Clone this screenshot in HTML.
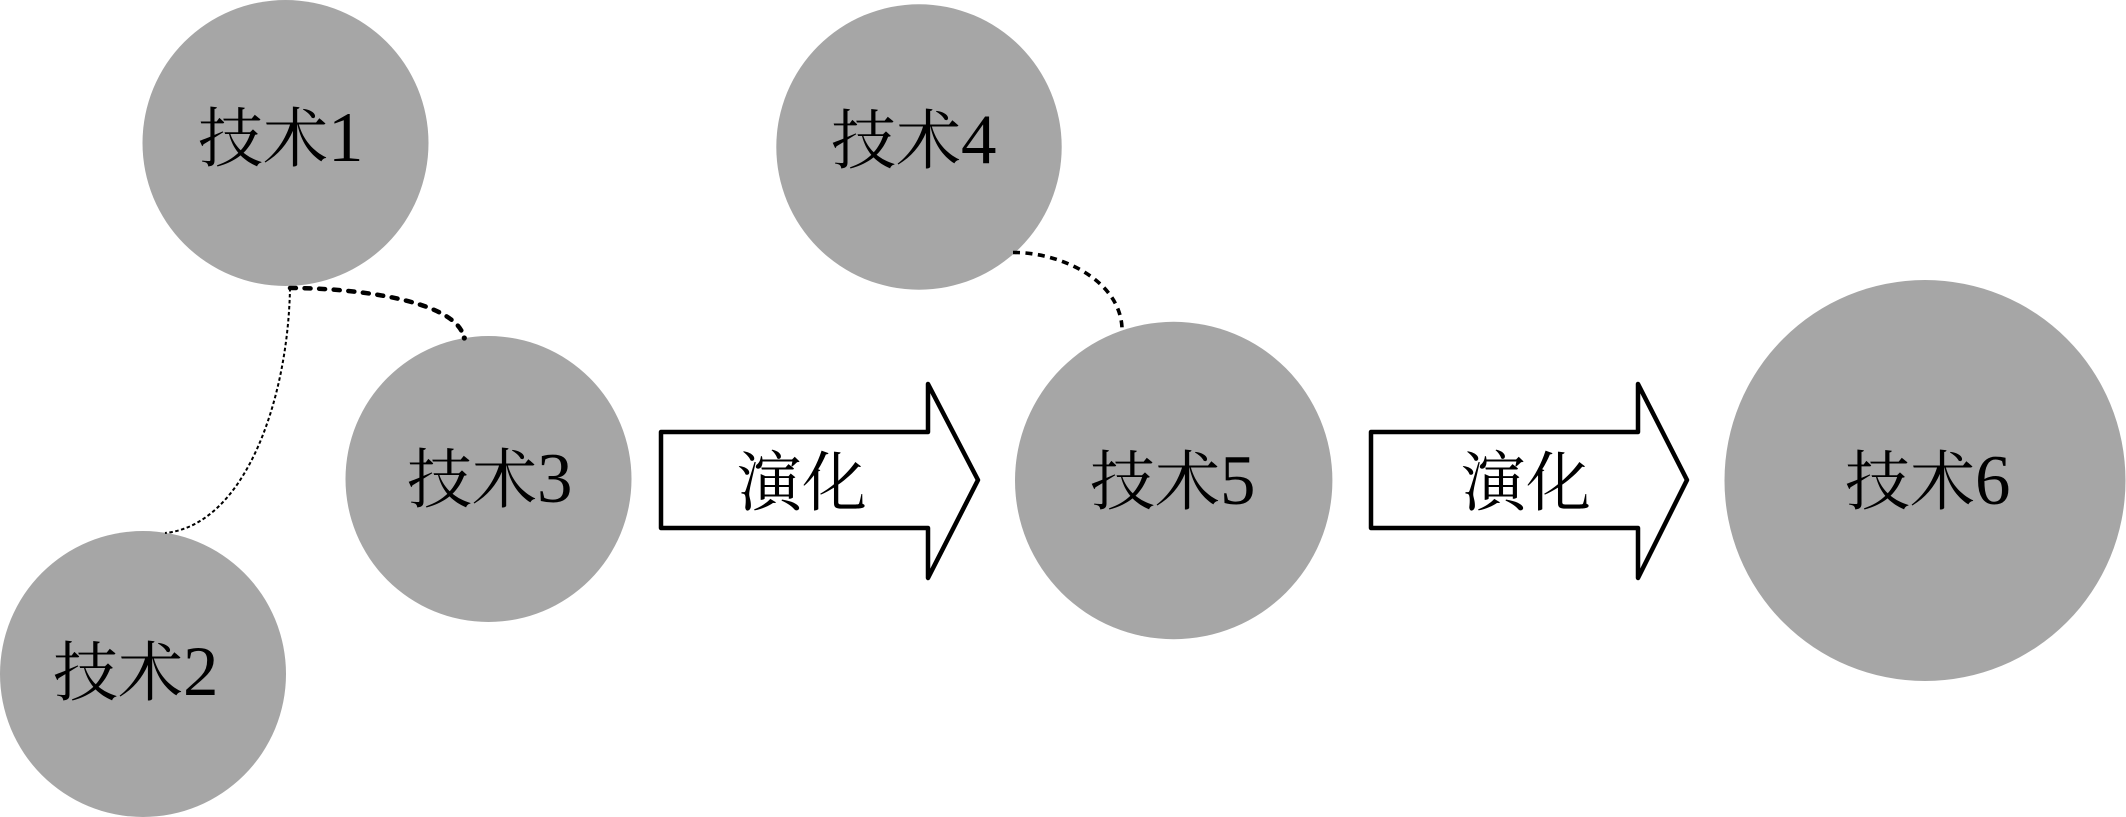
<!DOCTYPE html>
<html lang="zh">
<head>
<meta charset="utf-8">
<style>
html,body{margin:0;padding:0;background:#fff;width:2126px;height:817px;overflow:hidden}
svg{display:block}
text{font-family:"Liberation Serif","Noto Serif CJK SC",serif;font-size:65px;fill:#000}
tspan{font-size:71px}
</style>
</head>
<body>
<svg width="2126" height="817" viewBox="0 0 2126 817" xmlns="http://www.w3.org/2000/svg">
<g fill="#a6a6a6">
<circle cx="285.5" cy="143" r="143"/>
<circle cx="143" cy="674" r="143"/>
<circle cx="488.5" cy="479" r="143"/>
<circle cx="919" cy="147" r="142.7"/>
<circle cx="1173.7" cy="480.5" r="158.7"/>
<circle cx="1925" cy="480.5" r="200.5"/>
</g>
<g fill="none" stroke="#000">
<path d="M290 288C288 400 245 525 165 533" stroke-width="2" stroke-dasharray="3.5 2.5"/>
<path d="M290 288C355 288 450 300 463 334" stroke-width="4.5" stroke-dasharray="6 8.6" stroke-linecap="round"/>
<path d="M1013 252.5C1060 252 1120 280 1122 328" stroke-width="3.6" stroke-dasharray="7 5.5"/>
</g>
<circle cx="464.3" cy="338" r="2.6" fill="#000"/>
<g fill="#fff" stroke="#000" stroke-width="4.5" stroke-linejoin="round">
<path d="M661 432H928V384L978 480L928 578V528H661Z"/>
<path d="M1371 432H1638V384L1687 480L1638 578V528H1371Z"/>
</g>
<text x="198" y="161">技术<tspan>1</tspan></text>
<text x="53" y="695">技术<tspan>2</tspan></text>
<text x="407" y="502">技术<tspan>3</tspan></text>
<text x="831" y="163">技术<tspan>4</tspan></text>
<text x="1090" y="504">技术<tspan>5</tspan></text>
<text x="1845" y="504">技术<tspan>6</tspan></text>
<text x="737" y="505">演化</text>
<text x="1461" y="505">演化</text>
</svg>
</body>
</html>
